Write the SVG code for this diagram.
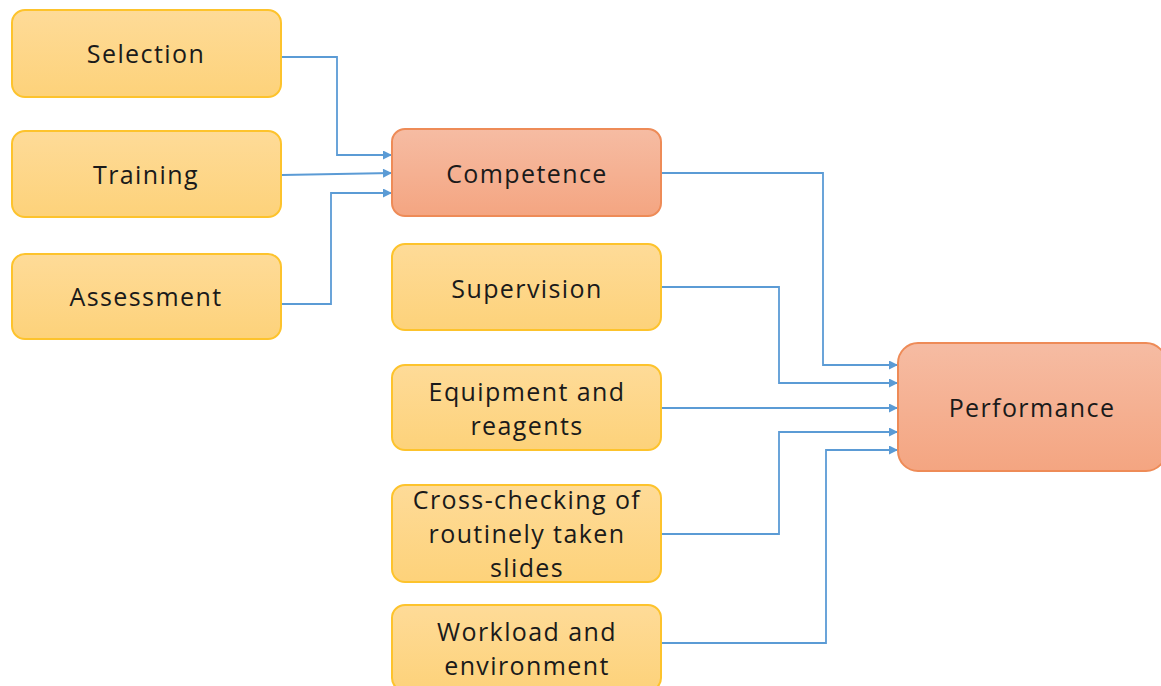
<svg xmlns="http://www.w3.org/2000/svg" width="1161" height="686" viewBox="0 0 1161 686">
  <defs>
    <linearGradient id="gYellow" x1="0" y1="0" x2="0" y2="1">
      <stop offset="0" stop-color="#fedb98"/>
      <stop offset="1" stop-color="#fdd27a"/>
    </linearGradient>
    <linearGradient id="gOrange" x1="0" y1="0" x2="0" y2="1">
      <stop offset="0" stop-color="#f6bca3"/>
      <stop offset="1" stop-color="#f4a581"/>
    </linearGradient>
    <marker id="arrow" viewBox="0 0 10 10" refX="10" refY="5" markerWidth="10" markerHeight="9" markerUnits="userSpaceOnUse" orient="auto">
      <path d="M0,0 L10,5 L0,10 z" fill="#5b9bd5"/>
    </marker>
  </defs>
  <style>
    .y rect { fill: url(#gYellow); stroke: #fdc32c; stroke-width: 2; }
    .o rect { fill: url(#gOrange); stroke: #ee8b57; stroke-width: 2; }
    text { font-family: "Open Sans", "Noto Sans", sans-serif; font-size: 25px; letter-spacing: 1.4px; fill: #1a1a1a; text-anchor: middle; }
    #connectors path { fill: none; stroke: #5b9bd5; stroke-width: 1.8; marker-end: url(#arrow); }
  </style>

  <rect width="1161" height="686" fill="#ffffff"/>

  <g id="connectors">
    <path d="M281,57 H337 V155 H392"/>
    <path d="M282,175 L392,173"/>
    <path d="M270,304 H331 V193 H392"/>
    <path d="M661,173 H823 V365 H898"/>
    <path d="M661,287 H779 V383 H898"/>
    <path d="M661,408 H898"/>
    <path d="M661,534 H779 V432 H898"/>
    <path d="M661,643 H826 V450 H898"/>
  </g>

  <g id="selection" class="y">
    <rect x="12" y="10" width="269" height="87" rx="13"/>
    <text x="146" y="63">Selection</text>
  </g>
  <g id="training" class="y">
    <rect x="12" y="131" width="269" height="86" rx="13"/>
    <text x="146" y="184">Training</text>
  </g>
  <g id="assessment" class="y">
    <rect x="12" y="254" width="269" height="85" rx="13"/>
    <text x="146" y="306">Assessment</text>
  </g>
  <g id="competence" class="o">
    <rect x="392" y="129" width="269" height="87" rx="13"/>
    <text x="527" y="183">Competence</text>
  </g>
  <g id="supervision" class="y">
    <rect x="392" y="244" width="269" height="86" rx="13"/>
    <text x="527" y="298">Supervision</text>
  </g>
  <g id="equipment" class="y">
    <rect x="392" y="365" width="269" height="85" rx="13"/>
    <text x="527" y="401">Equipment and</text>
    <text x="527" y="435">reagents</text>
  </g>
  <g id="crosschecking" class="y">
    <rect x="392" y="485" width="269" height="97" rx="13"/>
    <text x="527" y="509">Cross-checking of</text>
    <text x="527" y="543">routinely taken</text>
    <text x="527" y="577">slides</text>
  </g>
  <g id="workload" class="y">
    <rect x="392" y="605" width="269" height="86" rx="13"/>
    <text x="527" y="641">Workload and</text>
    <text x="527" y="675">environment</text>
  </g>
  <g id="performance" class="o">
    <rect x="898" y="343" width="268" height="128" rx="20"/>
    <text x="1032" y="417">Performance</text>
  </g>
</svg>
